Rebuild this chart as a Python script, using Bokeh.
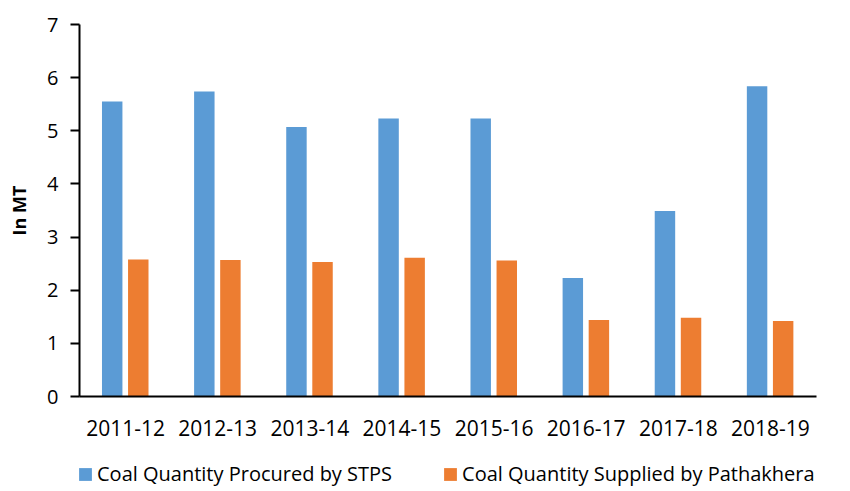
from bokeh.plotting import figure
from bokeh.layouts import column
from bokeh.models import ColumnDataSource, FactorRange, Range1d, Legend, LegendItem, FixedTicker
from bokeh.transform import dodge
from bokeh.embed import file_html
from bokeh.resources import INLINE

years = ["2011-12", "2012-13", "2013-14", "2014-15", "2015-16", "2016-17", "2017-18", "2018-19"]
procured = [5.55, 5.74, 5.07, 5.23, 5.23, 2.23, 3.49, 5.84]
supplied = [2.58, 2.57, 2.53, 2.61, 2.56, 1.44, 1.48, 1.42]
y_ticks = [0, 1, 2, 3, 4, 5, 6, 7]
series_names = ["Coal Quantity Procured by STPS", "Coal Quantity Supplied by Pathakhera"]

BLUE = "#5B9BD5"
ORANGE = "#ED7D31"
FONT = "Open Sans"

src = ColumnDataSource(dict(year=years, procured=procured, supplied=supplied))

p = figure(x_range=FactorRange(*years, range_padding=0), y_range=Range1d(0, 7),
           width=850, height=452, output_backend="svg", toolbar_location=None,
           min_border_left=79, min_border_right=34, min_border_top=24, min_border_bottom=56)
p.outline_line_color = None
p.xgrid.visible = False
p.ygrid.visible = False
p.background_fill_color = "white"
p.border_fill_color = "white"

r1 = p.vbar(x=dodge("year", -0.145, range=p.x_range), top="procured", width=0.222,
            source=src, fill_color=BLUE, line_color=None)
r2 = p.vbar(x=dodge("year", 0.138, range=p.x_range), top="supplied", width=0.222,
            source=src, fill_color=ORANGE, line_color=None)

# y axis
p.yaxis.ticker = FixedTicker(ticks=y_ticks)
p.yaxis.axis_line_width = 2
p.yaxis.axis_line_color = "black"
p.yaxis.major_tick_line_width = 2
p.yaxis.major_tick_line_color = "black"
p.yaxis.major_tick_out = 9
p.yaxis.major_tick_in = 0
p.yaxis.minor_tick_line_color = None
p.yaxis.major_label_standoff = 12
p.yaxis.major_label_text_font = FONT
p.yaxis.major_label_text_font_size = "20px"
p.yaxis.major_label_text_color = "black"
p.yaxis.axis_label = "In MT"
p.yaxis.axis_label_text_font = FONT
p.yaxis.axis_label_text_font_style = "bold"
p.yaxis.axis_label_text_font_size = "18px"
p.yaxis.axis_label_text_color = "black"
p.yaxis.axis_label_standoff = 13

# x axis
p.xaxis.axis_line_width = 2
p.xaxis.axis_line_color = "black"
p.xaxis.major_tick_line_color = None
p.xaxis.major_tick_out = 0
p.xaxis.major_tick_in = 0
p.xaxis.minor_tick_line_color = None
p.xaxis.major_label_standoff = 23
p.xaxis.major_label_text_font = FONT
p.xaxis.major_label_text_font_size = "21px"
p.xaxis.major_label_text_color = "black"

# legend strip below the chart (its bars lie outside its visible y range)
lg = figure(x_range=FactorRange(*years, range_padding=0), y_range=Range1d(100, 101),
            width=850, height=39, output_backend="svg", toolbar_location=None,
            x_axis_type=None, y_axis_type=None,
            min_border_left=0, min_border_right=0, min_border_top=0, min_border_bottom=0)
lg.outline_line_color = None
lg.xgrid.visible = False
lg.ygrid.visible = False
k1 = lg.vbar(x="year", top="procured", width=0.2, source=src, fill_color=BLUE, line_color=None)
k2 = lg.vbar(x="year", top="supplied", width=0.2, source=src, fill_color=ORANGE, line_color=None)

legend = Legend(items=[LegendItem(label=series_names[0], renderers=[k1]),
                       LegendItem(label=series_names[1], renderers=[k2])],
                orientation="horizontal", location=(-2, 4), padding=0, margin=0,
                border_line_color=None, background_fill_alpha=0,
                glyph_width=16, glyph_height=16, label_standoff=4, spacing=50,
                label_text_font=FONT, label_text_font_size="20px", label_text_color="black")
lg.add_layout(legend, "center")

layout = column(p, lg, spacing=0)
open("out.html", "w").write(file_html(layout, INLINE))
